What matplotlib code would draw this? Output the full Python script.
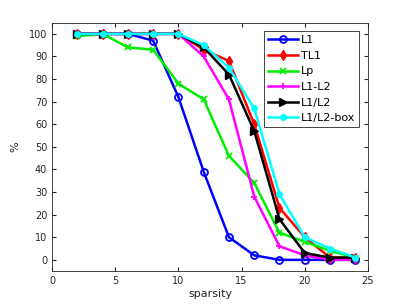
import matplotlib
matplotlib.use("Agg")
import matplotlib.pyplot as plt

sparsity = [2, 4, 6, 8, 10, 12, 14, 16, 18, 20, 22, 24]
l1 = [100, 100, 100, 97, 72, 39, 10, 2, 0, 0, 0, 0]
tl1 = [100, 100, 100, 100, 100, 93, 88, 60, 23, 10, 1, 1]
lp = [99, 100, 94, 93, 78, 71, 46, 34, 12, 8, 4, 1]
l1_l2 = [100, 100, 100, 100, 100, 90, 71, 28, 6, 2, 0, 0]
l1_over_l2 = [100, 100, 100, 100, 100, 94, 82, 57, 18, 3, 1, 1]
l1_over_l2_box = [100, 100, 100, 100, 100, 95, 85, 67, 29, 10, 5, 1]

plt.rcParams['font.family'] = 'DejaVu Sans'
fig = plt.figure(figsize=(4.07, 3.05), dpi=100)
ax = fig.add_axes([0.128, 0.111, 0.776, 0.815])

lw = 1.8
ax.plot(sparsity, l1, color='blue', marker='o', mfc='none', ms=5, mew=1.3, lw=lw, label='L1')
ax.plot(sparsity, tl1, color='red', marker='d', ms=5, lw=lw, label='TL1')
ax.plot(sparsity, lp, color='#00ee00', marker='x', ms=4, mew=1.3, lw=lw, label='Lp')
ax.plot(sparsity, l1_l2, color='magenta', marker='+', ms=5, mew=1.3, lw=lw, label='L1-L2')
ax.plot(sparsity, l1_over_l2, color='black', marker='>', ms=6, lw=lw, label='L1/L2')
ax.plot(sparsity, l1_over_l2_box, color='cyan', marker='.', ms=8, lw=lw, label='L1/L2-box')

ax.set_xlim(0, 25)
ax.set_ylim(-5, 105)
ax.set_xticks([0, 5, 10, 15, 20, 25])
ax.set_yticks(range(0, 101, 10))
ax.tick_params(direction='in', labelsize=7, colors='#262626', length=3, top=True, right=True)
for s in ax.spines.values():
    s.set_color('#262626')
    s.set_linewidth(0.6)
ax.set_xlabel('sparsity', fontsize=8, color='#262626', labelpad=2)
ax.set_ylabel('%', fontsize=8, color='#262626', labelpad=6)

leg = ax.legend(loc='upper right', fontsize=8, fancybox=False, framealpha=1,
                edgecolor='#262626', borderaxespad=0.8, handlelength=2.7,
                handletextpad=0.25, labelspacing=0.5, borderpad=0.35)
leg.get_frame().set_linewidth(0.6)

fig.savefig('out.png', dpi=100)
